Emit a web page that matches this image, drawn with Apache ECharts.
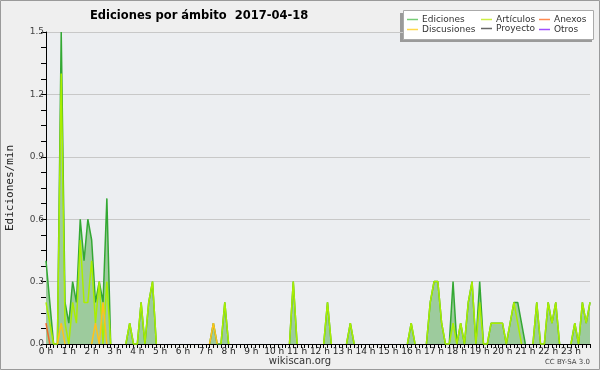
<!DOCTYPE html>
<html>
<head>
<meta charset="utf-8">
<script src="https://cdn.jsdelivr.net/npm/echarts@6/dist/echarts.min.js"></script>
<style>html,body{margin:0;padding:0;background:#efefef}#c{width:600px;height:370px}</style>
</head>
<body>
<div id="c"></div>
<script>
// 10-minute slots, 0:00 .. 23:50
const categories = [];
for (let h = 0; h < 24; h++) for (let m = 0; m < 60; m += 10) categories.push(h + ':' + (m < 10 ? '0' + m : m));

const ediciones = [
 0.4,0.2,0,0,1.5,0.2,0.1,0.3,0.2,0.6,0.4,0.6,
 0.5,0.2,0.3,0.2,0.7,0,0,0,0,0,0.1,0,
 0,0.2,0,0.2,0.3,0,0,0,0,0,0,0,
 0,0,0,0,0,0,0,0,0.1,0,0,0.2,
 0,0,0,0,0,0,0,0,0,0,0,0,
 0,0,0,0,0,0.3,0,0,0,0,0,0,
 0,0,0.2,0,0,0,0,0,0.1,0,0,0,
 0,0,0,0,0,0,0,0,0,0,0,0,
 0.1,0,0,0,0,0.2,0.3,0.3,0.1,0,0,0.3,
 0,0.1,0,0.2,0.3,0,0.3,0,0,0.1,0.1,0.1,
 0.1,0,0.1,0.2,0.2,0.1,0,0,0,0.2,0,0,
 0.2,0.1,0.2,0,0,0,0,0.1,0,0.2,0.1,0.2
];
const articulos = [
 0.2,0.1,0,0,1.3,0.1,0,0.2,0.1,0.5,0.2,0.2,
 0.4,0.1,0.3,0,0.3,0,0,0,0,0,0.1,0,
 0,0.2,0,0.2,0.3,0,0,0,0,0,0,0,
 0,0,0,0,0,0,0,0,0,0,0,0.2,
 0,0,0,0,0,0,0,0,0,0,0,0,
 0,0,0,0,0,0.3,0,0,0,0,0,0,
 0,0,0.2,0,0,0,0,0,0.1,0,0,0,
 0,0,0,0,0,0,0,0,0,0,0,0,
 0.1,0,0,0,0,0.2,0.3,0.3,0.1,0,0,0.1,
 0,0.1,0,0.2,0.3,0,0.2,0,0,0.1,0.1,0.1,
 0.1,0,0.1,0.2,0.1,0,0,0,0,0.2,0,0,
 0.2,0.1,0.2,0,0,0,0,0.1,0,0.2,0.1,0.2
];
const discusiones = [
 0,0,0,0,0.1,0,0,0,0,0,0,0,
 0,0.1,0,0.2,0,0,0,0,0,0,0,0,
 0,0,0,0,0,0,0,0,0,0,0,0,
 0,0,0,0,0,0,0,0,0.1,0,0,0,
 0,0,0,0,0,0,0,0,0,0,0,0,
 0,0,0,0,0,0,0,0,0,0,0,0,
 0,0,0,0,0,0,0,0,0,0,0,0,
 0,0,0,0,0,0,0,0,0,0,0,0,
 0,0,0,0,0,0,0,0,0,0,0,0,
 0,0,0,0,0,0,0,0,0,0,0,0,
 0,0,0,0,0,0,0,0,0,0,0,0,
 0,0,0,0,0,0,0,0,0,0,0,0
];
const anexos = [
 0.1,0,0,0,0,0,0,0,0,0,0,0,
 0,0,0,0,0,0,0,0,0,0,0,0,
 0,0,0,0,0,0,0,0,0,0,0,0,
 0,0,0,0,0,0,0,0,0,0,0,0,
 0,0,0,0,0,0,0,0,0,0,0,0,
 0,0,0,0,0,0,0,0,0,0,0,0,
 0,0,0,0,0,0,0,0,0,0,0,0,
 0,0,0,0,0,0,0,0,0,0,0,0,
 0,0,0,0,0,0,0,0,0,0,0,0,
 0,0,0,0,0,0,0,0,0,0,0,0,
 0,0,0,0,0,0,0,0,0,0,0,0,
 0,0,0,0,0,0,0,0,0,0,0,0
];
const proyecto = [];
const otros = [];
const yTicks = [0, 0.3, 0.6, 0.9, 1.2, 1.5];

// hide long runs of zeros (only keep zeros touching a non-zero value)
function trim(arr) {
  return arr.map((v, i) => {
    if (v !== 0) return v;
    const p = i > 0 ? arr[i - 1] : 0, n = i < arr.length - 1 ? arr[i + 1] : 0;
    return (p || n) ? 0 : null;
  });
}

const names = ['Ediciones','Artículos','Anexos','Discusiones','Proyecto','Otros'];
const colors = {
  'Ediciones':'#33a833','Artículos':'#aaee00','Anexos':'#ee6a2a',
  'Discusiones':'#ffc21a','Proyecto':'#666666','Otros':'#9a3cf0'
};
const legendColors = {
  'Ediciones':'#77cc77','Artículos':'#ccee44','Anexos':'#ff8a50',
  'Discusiones':'#ffd84a','Proyecto':'#666666','Otros':'#a050ff'
};
const legendPos = {
  'Ediciones':[407,15],'Artículos':[481,15],'Anexos':[539,15],
  'Discusiones':[407,25],'Proyecto':[481,24],'Otros':[539,25]
};

const chart = echarts.init(document.getElementById('c'), null, {renderer:'canvas'});
const font = 'DejaVu Sans';

const option = {
  backgroundColor: '#efefef',
  animation: false,
  title: {
    text: 'Ediciones por ámbito  2017-04-18',
    left: 85, top: 5,
    textStyle: {fontFamily: font, fontSize: 11.5, fontWeight: 'bold', color: '#000'}
  },
  legend: names.map(n => ({
    data: [{name: n, itemStyle: {color: legendColors[n]}}],
    left: legendPos[n][0], top: legendPos[n][1],
    padding: 0, itemWidth: 11, itemHeight: 1.5, icon: 'rect',
    selectedMode: false,
    textStyle: {fontFamily: font, fontSize: 9, color: '#333', padding: [0,0,0,-1]}
  })),
  grid: {left: 46, right: 10, top: 32, bottom: 26, show: true, backgroundColor: '#eceef1', borderWidth: 0,
         containLabel: false, outerBoundsMode: 'none'},
  xAxis: {
    type: 'category', data: categories, boundaryGap: false,
    axisLine: {lineStyle: {color: '#000', width: 1}},
    axisTick: {show: true, interval: 0, length: 4, lineStyle: {color: '#000'}},
    axisLabel: {
      interval: (i) => i % 6 === 0,
      formatter: (v) => parseInt(v, 10) + ' h',
      fontFamily: font, fontSize: 9, color: '#222', margin: 3
    },
    splitLine: {show: false}
  },
  yAxis: {
    type: 'value', min: yTicks[0], max: yTicks[yTicks.length - 1], interval: 0.3,
    name: 'Ediciones/min', nameLocation: 'middle', nameGap: 30,
    nameTextStyle: {fontFamily: 'DejaVu Sans Mono', fontSize: 11, color: '#222'},
    axisLine: {show: true, lineStyle: {color: '#000'}},
    axisTick: {show: true, length: 5, lineStyle: {color: '#000'}},
    minorTick: {show: true, splitNumber: 4, length: 5, lineStyle: {color: '#000'}},
    axisLabel: {formatter: (v) => v.toFixed(1), fontFamily: font, fontSize: 9, color: '#444', margin: 2},
    splitLine: {show: true, lineStyle: {color: '#c8c8c8', width: 1}}
  },
  series: [
    {name: 'Ediciones', type: 'line', data: trim(ediciones), symbol: 'none', z: 2,
     lineStyle: {color: colors['Ediciones'], width: 1.5},
     itemStyle: {color: colors['Ediciones']},
     areaStyle: {color: '#9dcb9d', opacity: 1}},
    {name: 'Artículos', type: 'line', data: trim(articulos), symbol: 'none', z: 3,
     lineStyle: {color: colors['Artículos'], width: 1.5}, itemStyle: {color: colors['Artículos']}},
    {name: 'Anexos', type: 'line', data: trim(anexos), symbol: 'none', z: 4,
     lineStyle: {color: colors['Anexos'], width: 1.5}, itemStyle: {color: colors['Anexos']}},
    {name: 'Discusiones', type: 'line', data: trim(discusiones), symbol: 'none', z: 4,
     lineStyle: {color: colors['Discusiones'], width: 1.5}, itemStyle: {color: colors['Discusiones']}},
    {name: 'Proyecto', type: 'line', data: proyecto, symbol: 'none', z: 4,
     lineStyle: {color: colors['Proyecto'], width: 1.5}, itemStyle: {color: colors['Proyecto']}},
    {name: 'Otros', type: 'line', data: otros, symbol: 'none', z: 4,
     lineStyle: {color: colors['Otros'], width: 1.5}, itemStyle: {color: colors['Otros']}}
  ],
  graphic: [
    {type: 'rect', z: -1, silent: true, shape: {x: 0.5, y: 0.5, width: 599, height: 369},
     style: {fill: null, stroke: '#9a9a9a', lineWidth: 1}},
    {type: 'rect', z: 0, silent: true, shape: {x: 400, y: 13, width: 192, height: 29},
     style: {fill: '#9a9a9a'}},
    {type: 'rect', z: 1, silent: true, shape: {x: 403.5, y: 10.5, width: 190, height: 29},
     style: {fill: '#ffffff', stroke: '#aaaaaa', lineWidth: 1}},
    {type: 'text', silent: true, x: 300, y: 361,
     style: {text: 'wikiscan.org', fill: '#333', font: '10px "DejaVu Sans"', align: 'center', verticalAlign: 'middle'}},
    {type: 'text', silent: true, x: 590, y: 362,
     style: {text: 'CC BY-SA 3.0', fill: '#444', font: '7px "DejaVu Sans"', align: 'right', verticalAlign: 'middle'}}
  ]
};
chart.setOption(option);
</script>
</body>
</html>
